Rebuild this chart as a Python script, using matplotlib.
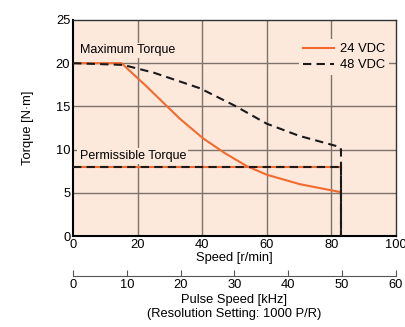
import numpy as np
import matplotlib.pyplot as plt

plt.rcParams['font.family'] = ['Liberation Sans', 'DejaVu Sans']

# 24 VDC
speed_24 = [0, 15, 22.8, 33, 40.3, 47, 53.8, 60, 70.3, 82.7, 83, 83]
torque_24 = [20, 20, 17.3, 13.6, 11.3, 9.6, 8.1, 7.1, 6.0, 5.1, 5.0, 0]
# 48 VDC
speed_48 = [0, 15.5, 25, 39.3, 50, 60, 70, 82.7, 83, 83]
torque_48 = [20, 19.8, 18.9, 17.1, 15.1, 13.0, 11.6, 10.3, 10.0, 0]
# permissible torque
perm_speed = [0, 83]
perm_torque = [8, 8]

speed_ticks = [0, 20, 40, 60, 80, 100]
torque_ticks = [0, 5, 10, 15, 20, 25]
pulse_ticks = [0, 10, 20, 30, 40, 50, 60]

bg = '#fde9dc'
grid_c = '#7d726c'
orange = '#f26a2e'
fs = 9.3

fig = plt.figure(figsize=(4.06, 3.27), dpi=100)
ax = fig.add_axes([0.180, 0.278, 0.795, 0.661])
ax.set_facecolor(bg)

for x in speed_ticks[1:-1]:
    ax.axvline(x, color=grid_c, lw=1.0, zorder=1)
for y in torque_ticks[1:-1]:
    ax.axhline(y, color=grid_c, lw=1.0, zorder=1)

ax.plot(speed_24, torque_24, color=orange, lw=1.5, zorder=3, label='24 VDC')
ax.plot(perm_speed, perm_torque, color=orange, lw=1.5, zorder=3)
ax.plot(speed_48, torque_48, color='#1a1a1a', lw=1.5, ls=(0, (4, 2.5)), zorder=4, label='48 VDC')
ax.plot([83, 83], [8, 0], color='#1a1a1a', lw=1.5, ls=(0, (4, 2.5)), zorder=4)
ax.plot(perm_speed, perm_torque, color='#1a1a1a', lw=1.5, ls=(0, (4, 2.5)), zorder=4)

ax.text(2, 20.8, 'Maximum Torque', fontsize=9, va='bottom', ha='left', zorder=2,
        bbox=dict(facecolor=bg, edgecolor='none', pad=1))
ax.text(2, 8.6, 'Permissible Torque', fontsize=9, va='bottom', ha='left', zorder=2,
        bbox=dict(facecolor=bg, edgecolor='none', pad=1.5))

leg = ax.legend(loc='upper right', bbox_to_anchor=(1.0, 0.94), fontsize=fs, frameon=True,
                handlelength=2.4, labelspacing=0.3, borderpad=0.3, handletextpad=0.5)
leg.get_frame().set_facecolor(bg)
leg.get_frame().set_edgecolor('none')
leg.get_frame().set_alpha(1)

ax.set_xlim(0, 100)
ax.set_ylim(0, 25)
ax.set_xticks(speed_ticks)
ax.set_yticks(torque_ticks)
ax.tick_params(length=0, labelsize=fs, pad=2)
ax.set_xlabel('Speed [r/min]', fontsize=fs, labelpad=1)
ax.set_ylabel('Torque [N·m]', fontsize=fs, labelpad=16)
for s in ['left', 'bottom']:
    ax.spines[s].set_linewidth(1.5)
    ax.spines[s].set_color('black')
for s in ['top', 'right']:
    ax.spines[s].set_linewidth(1.0)
    ax.spines[s].set_color('#333333')

ax2 = fig.add_axes([0.180, 0.155, 0.795, 0.001])
ax2.set_xlim(0, 60)
ax2.set_xticks(pulse_ticks)
ax2.set_yticks([])
for s in ['left', 'right', 'top']:
    ax2.spines[s].set_visible(False)
ax2.spines['bottom'].set_color('#555555')
ax2.patch.set_visible(False)
ax2.tick_params(axis='x', direction='in', length=4, labelsize=fs, pad=2, color='#555555')
ax2.set_xlabel('Pulse Speed [kHz]\n(Resolution Setting: 1000 P/R)', fontsize=fs, labelpad=2,
               linespacing=1.25)

fig.savefig('out.png', dpi=100)
